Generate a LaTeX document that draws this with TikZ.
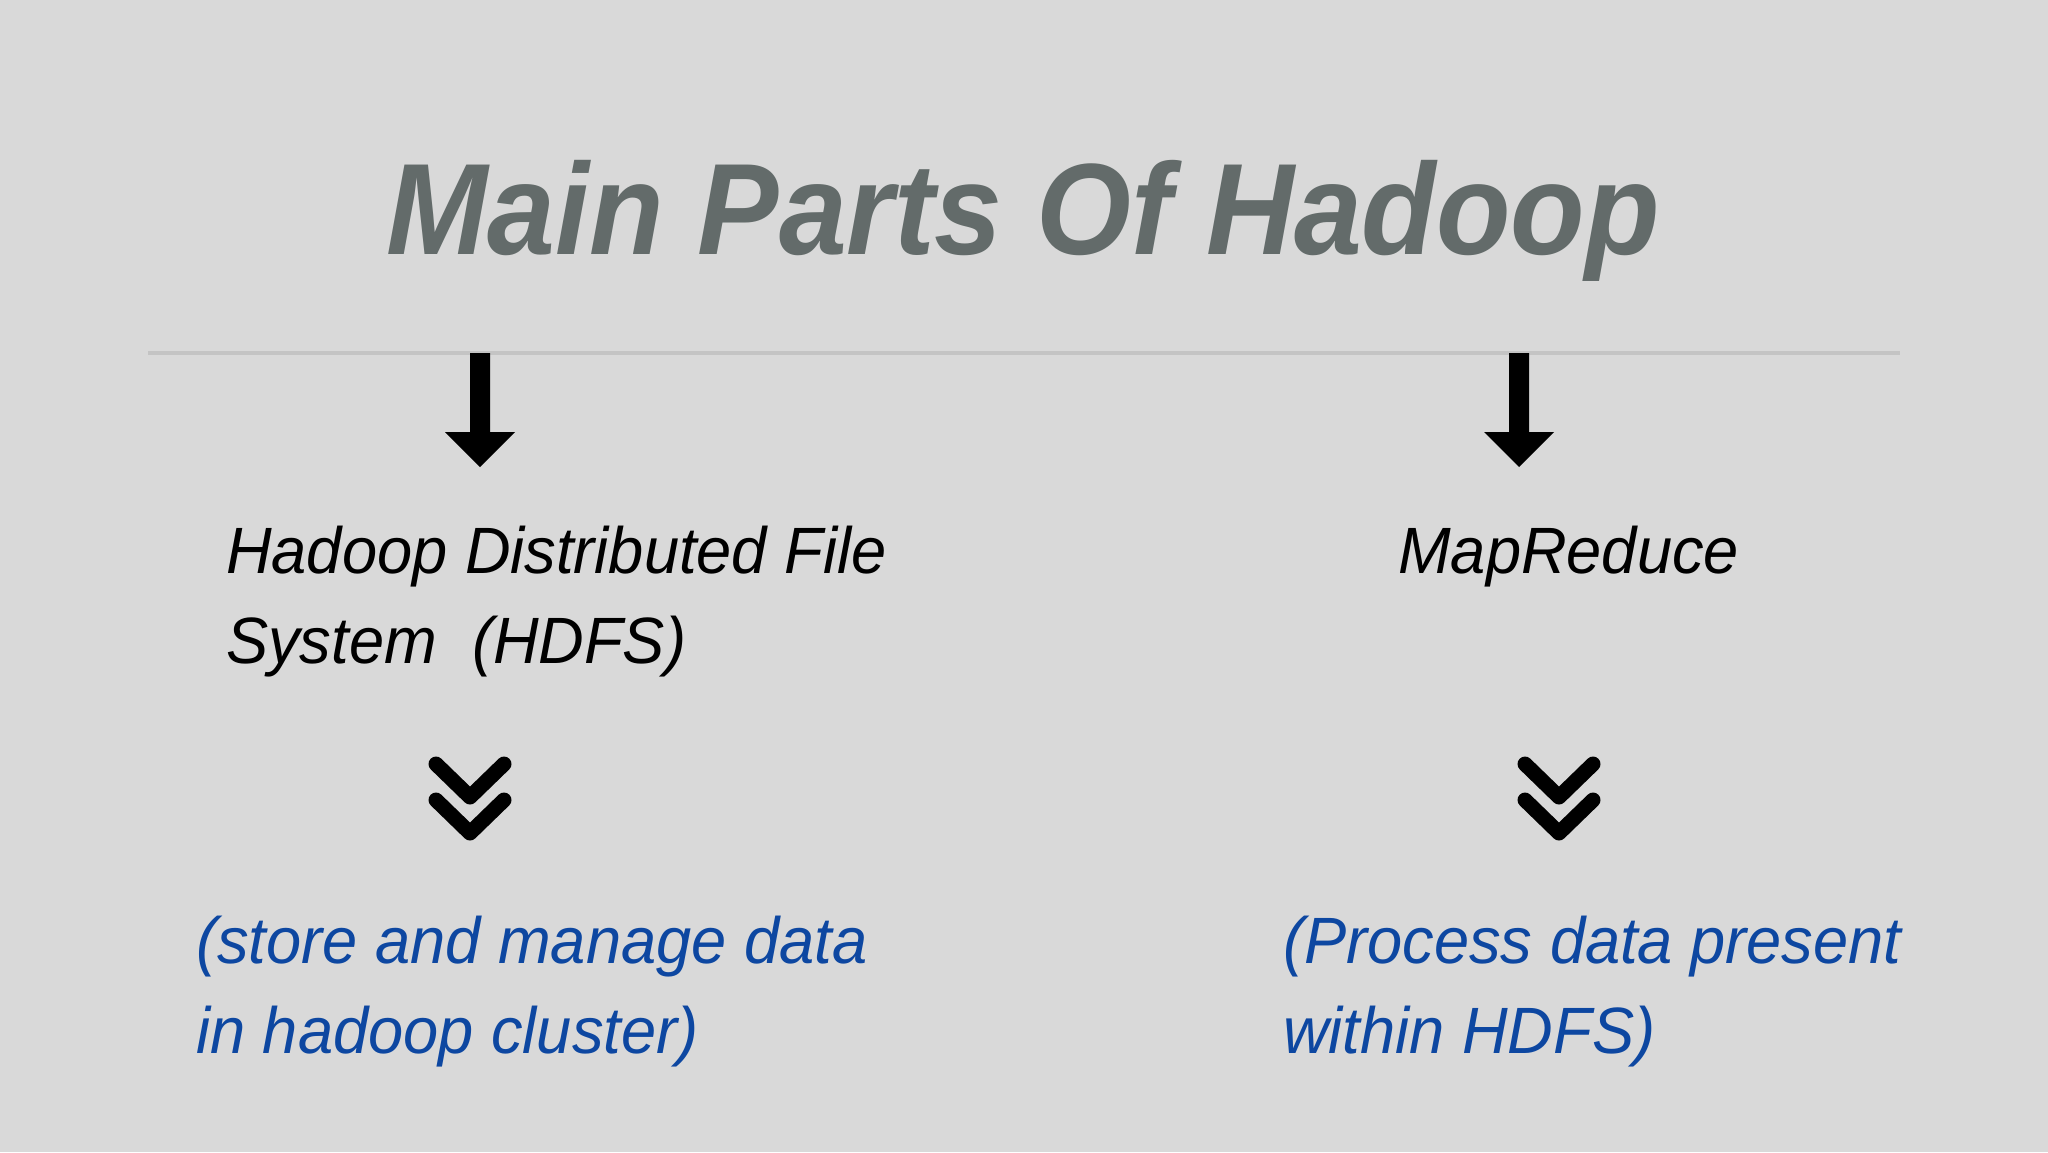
\documentclass[tikz,border=0pt]{standalone}
\usepackage{fontspec}
\usepackage{graphicx}
\setmainfont{Liberation Sans}
\definecolor{bg}{HTML}{D9D9D9}
\definecolor{titlegray}{HTML}{636B6A}
\definecolor{rulegray}{HTML}{C4C4C4}
\definecolor{noteblue}{HTML}{0D47A1}
\newcommand{\nar}[1]{\scalebox{0.965}[1]{#1}}
\tikzset{
  titletext/.style={anchor=base west, inner sep=0pt, text=titlegray, font=\fontsize{130}{156}\selectfont\bfseries\itshape},
  parttext/.style={anchor=base west, inner sep=0pt, text=black, font=\fontsize{65.5}{78}\selectfont\itshape},
  notetext/.style={anchor=base west, inner sep=0pt, text=noteblue, font=\fontsize{65.5}{78}\selectfont\itshape},
  fatarrow/.style={fill=black, draw=none},
  chev/.style={draw=black, line width=15pt, line cap=round, line join=round},
}
\begin{document}
\begin{tikzpicture}[x=1pt,y=-1pt]
\fill[bg] (0,0) rectangle (2048,1152);
\useasboundingbox (0,0) rectangle (2048,1152);
% title
\node[titletext] (title) at (386,254) {\scalebox{0.938}[1]{Main Parts Of Hadoop}};
% rule
\coordinate (ruleL) at (148,353);
\coordinate (ruleR) at (1900,353);
\draw[rulegray, line width=4pt] (ruleL) -- (ruleR);
% arrows
\coordinate (a1) at (480,353);
\coordinate (a2) at (1519,353);
\foreach \c in {a1,a2}{
  \fill[fatarrow] ([xshift=-10pt]\c) -- ([xshift=10pt]\c) -- ([xshift=10pt,yshift=-79pt]\c)
    -- ([xshift=35pt,yshift=-79pt]\c) -- ([yshift=-114pt]\c) -- ([xshift=-35pt,yshift=-79pt]\c)
    -- ([xshift=-10pt,yshift=-79pt]\c) -- cycle;
}
% part names
\node[parttext] (hdfs1) at (226,573) {\nar{Hadoop Distributed File}};
\node[parttext] (hdfs2) at (226,663) {\nar{System\ \ (HDFS)}};
\node[parttext] (mr) at (1398,573) {\nar{MapReduce}};
% chevrons
\coordinate (c1) at (470,764);
\coordinate (c2) at (1559,764);
\foreach \c in {c1,c2}{
  \draw[chev] ([xshift=-34pt]\c) -- ([yshift=-33pt]\c) -- ([xshift=34pt]\c);
  \draw[chev] ([xshift=-34pt,yshift=-36pt]\c) -- ([yshift=-69pt]\c) -- ([xshift=34pt,yshift=-36pt]\c);
}
% notes
\node[notetext] (n1a) at (196,963) {\nar{(store and manage data}};
\node[notetext] (n1b) at (196,1053) {\nar{in hadoop cluster)}};
\node[notetext] (n2a) at (1283,963) {\nar{(Process data present}};
\node[notetext] (n2b) at (1283,1053) {\nar{within HDFS)}};
\end{tikzpicture}
\end{document}
